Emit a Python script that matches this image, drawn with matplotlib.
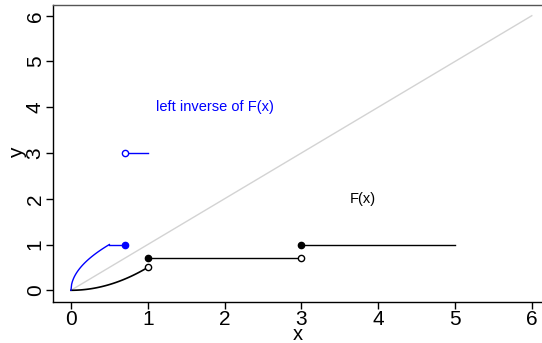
import numpy as np
import matplotlib.pyplot as plt

plt.rcParams['font.family'] = ['Liberation Sans', 'DejaVu Sans']

# distribution function F(x): x^2/2 on [0,1), 0.7 on [1,3), 1 on [3,5]
x_curve = np.linspace(0, 1, 60)
F_curve = x_curve**2 / 2
jump_x = [1, 3]
jump_lo = [0.5, 0.7]
jump_hi = [0.7, 1.0]
flat_end = [3, 5]

# left inverse G(u)
u_curve = np.linspace(0, 0.5, 60)
G_curve = np.sqrt(2 * u_curve)
G_flat_u = [0.5, 0.7]
G_flat_y = [1, 1]
G_top_u = [0.7, 1.0]
G_top_y = [3, 3]

diag = [0, 6]
ticks = [0, 1, 2, 3, 4, 5, 6]

fig = plt.figure(figsize=(5.42, 3.43), dpi=100)
ax = fig.add_axes([53/542, 41/343, 489/542, 297.5/343])

ax.plot(diag, diag, color='#d3d3d3', lw=1)

# F(x)
ax.plot(x_curve, F_curve, color='black', lw=1.2)
ax.plot([jump_x[0], jump_x[1]], [jump_hi[0], jump_hi[0]], color='black', lw=1)
ax.plot([flat_end[0], flat_end[1]], [jump_hi[1], jump_hi[1]], color='black', lw=1)
ax.plot(jump_x, jump_hi, 'o', color='black', ms=4.5, ls='none')
ax.plot(jump_x, jump_lo, 'o', mfc='white', mec='black', ms=4.5, mew=1, ls='none')

# left inverse
ax.plot(u_curve, G_curve, color='blue', lw=1)
ax.plot(G_flat_u, G_flat_y, color='blue', lw=1)
ax.plot(G_top_u, G_top_y, color='blue', lw=1)
ax.plot([G_flat_u[1]], [G_flat_y[1]], 'o', color='blue', ms=4.5)
ax.plot([G_top_u[0]], [G_top_y[0]], 'o', mfc='white', mec='blue', ms=4.5, mew=1)

ax.text(1.88, 4.0, 'left inverse of F(x)', color='blue', fontsize=10.5, ha='center', va='center')
ax.text(3.8, 2.0, 'F(x)', color='black', fontsize=10.5, ha='center', va='center')

ax.set_xlim(-0.234, 6.133)
ax.set_ylim(-0.256, 6.245)
ax.set_xticks(ticks)
ax.set_yticks(ticks)
ax.tick_params(labelsize=15, length=5, width=1, pad=1)
for lab in ax.get_yticklabels():
    lab.set_rotation(90)
    lab.set_va('center')
ax.spines['right'].set_visible(False)
for s in ['left', 'bottom', 'top']:
    ax.spines[s].set_linewidth(1)
ax.spines['top'].set_color('#555555')

ax.set_xlabel('x', fontsize=14.5, labelpad=-3)
ax.set_ylabel('y', fontsize=15, labelpad=-1)

fig.savefig('out.png', dpi=100)
